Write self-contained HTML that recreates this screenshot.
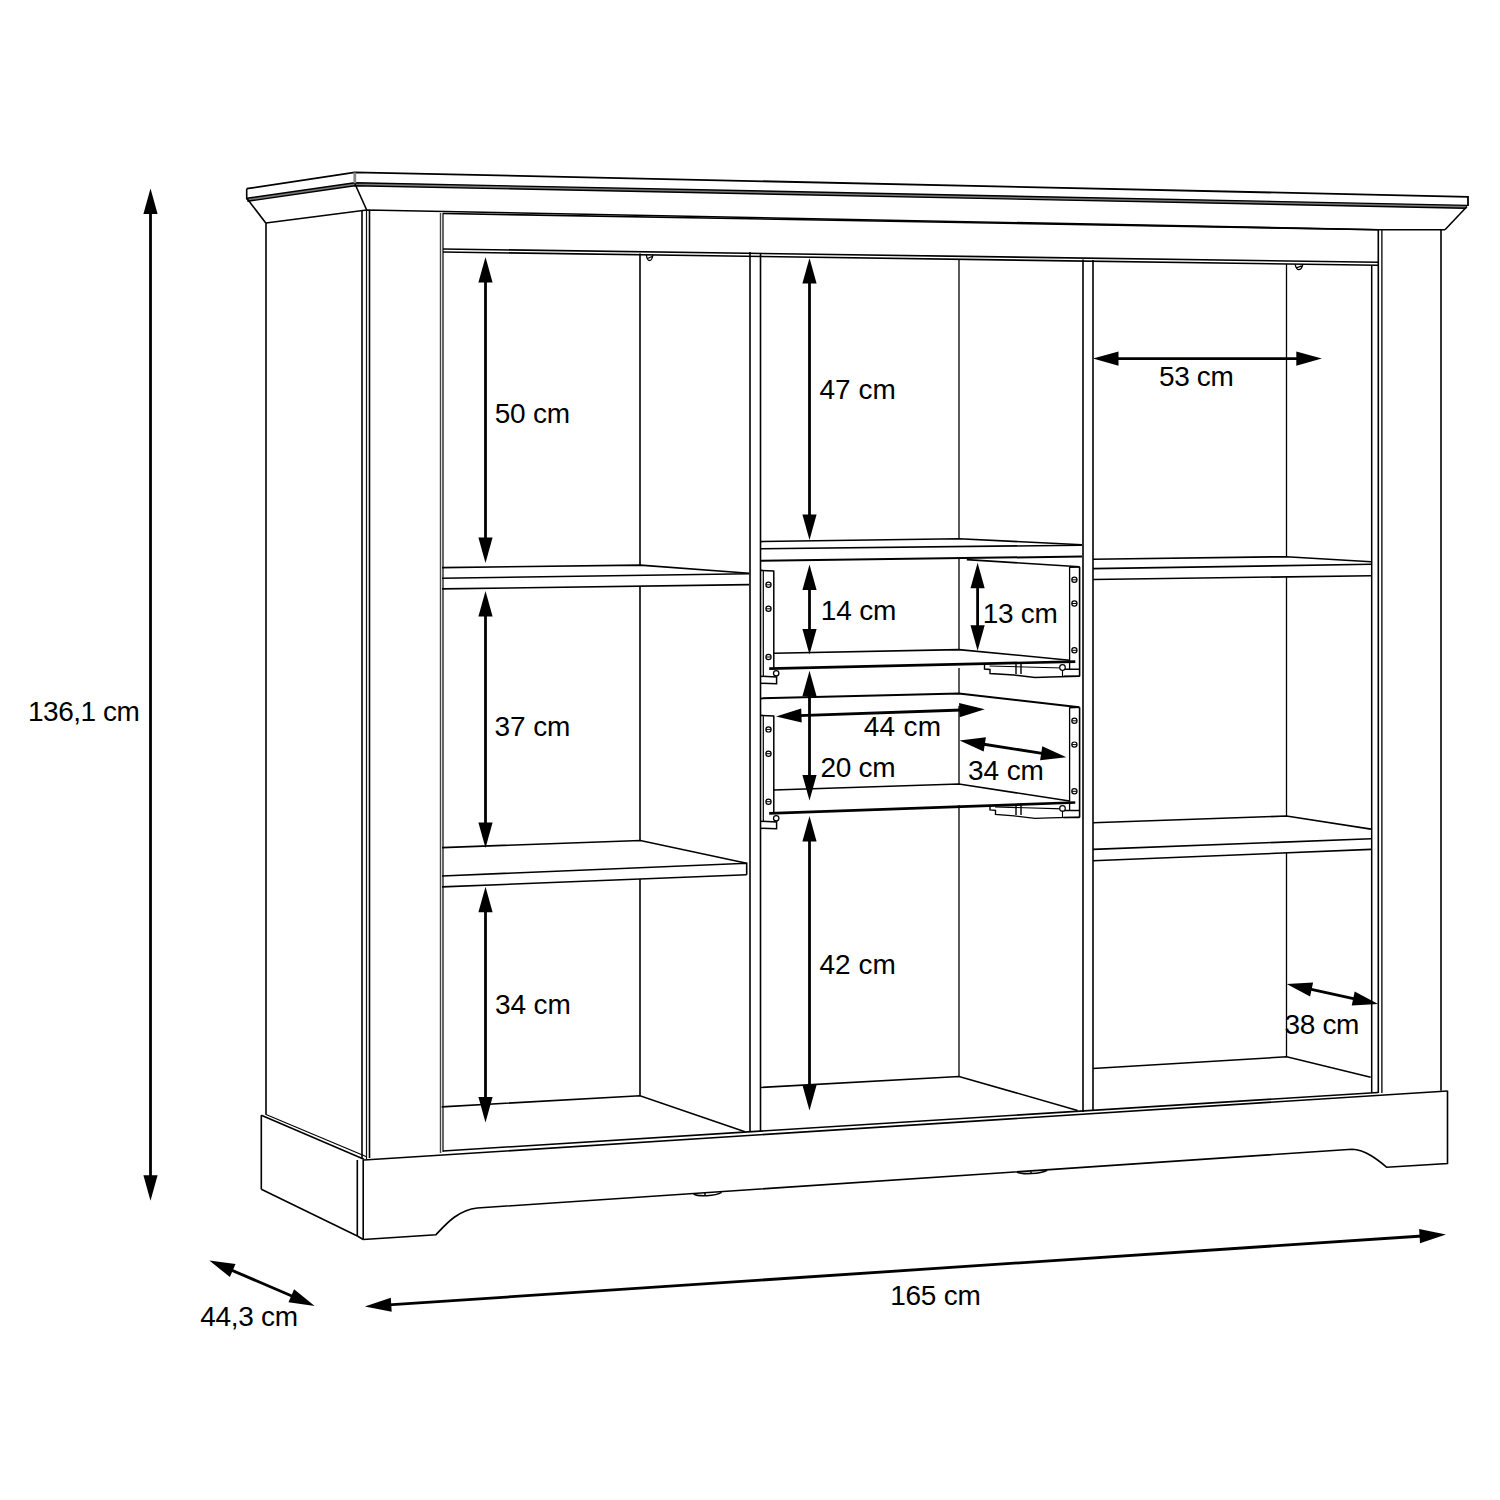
<!DOCTYPE html>
<html><head><meta charset="utf-8"><style>
html,body{margin:0;padding:0;background:#fff;}
body{width:1500px;height:1500px;overflow:hidden;}
svg{display:block;}
text{font-family:"Liberation Sans",sans-serif;fill:#000;}
</style></head><body>
<svg width="1500" height="1500" viewBox="0 0 1500 1500" stroke-linecap="butt" stroke-linejoin="miter">
<rect width="1500" height="1500" fill="#fff"/>
<path d="M246.7 188.7 L354.7 172.3 L1468.0 196.8 L1468.0 206.1" stroke="#000" stroke-width="1.8" fill="none"/>
<path d="M246.7 188.7 L246.7 199.5" stroke="#000" stroke-width="1.6" fill="none"/>
<path d="M247.0 199.8 L354.7 184.2 L1467.0 206.8" stroke="#777" stroke-width="3.2" fill="none"/>
<path d="M246.7 198.3 L354.7 182.7 L1468.0 205.4" stroke="#000" stroke-width="1.4" fill="none"/>
<path d="M247.5 201.3 L354.7 185.7 L1466.0 208.2" stroke="#000" stroke-width="1.4" fill="none"/>
<path d="M354.8 172.5 L354.8 183.0" stroke="#888" stroke-width="2.8" fill="none"/>
<path d="M247.0 198.5 L265.8 223.0" stroke="#000" stroke-width="1.6" fill="none"/>
<path d="M355.0 184.0 L366.7 210.0" stroke="#000" stroke-width="1.6" fill="none"/>
<path d="M1467.0 206.5 L1445.0 229.7" stroke="#000" stroke-width="1.6" fill="none"/>
<path d="M265.8 223.0 L366.7 210.0 L1378.0 229.7 L1445.0 229.7" stroke="#000" stroke-width="1.6" fill="none"/>
<path d="M266.0 223.0 L266.0 1114.7" stroke="#000" stroke-width="1.6" fill="none"/>
<path d="M362.0 211.0 L362.0 1159.0" stroke="#000" stroke-width="1.6" fill="none"/>
<path d="M366.5 210.5 L366.5 1159.0" stroke="#111" stroke-width="1.2" fill="none"/>
<path d="M369.5 211.0 L369.5 1158.0" stroke="#000" stroke-width="1.6" fill="none"/>
<path d="M440.5 213.0 L440.5 1153.0" stroke="#444" stroke-width="1.4" fill="none"/>
<path d="M443.0 213.0 L443.0 1152.0" stroke="#000" stroke-width="1.2" fill="none"/>
<path d="M443.0 213.5 L1378.0 229.7" stroke="#000" stroke-width="1.6" fill="none"/>
<path d="M443.0 249.0 L1378.0 262.2" stroke="#000" stroke-width="1.6" fill="none"/>
<path d="M443.0 252.0 L1378.0 265.2" stroke="#000" stroke-width="1.6" fill="none"/>
<path d="M1378.3 229.7 L1378.3 1093.0" stroke="#000" stroke-width="1.6" fill="none"/>
<path d="M1381.9 229.7 L1381.9 1093.0" stroke="#000" stroke-width="1.3" fill="none"/>
<path d="M1371.7 265.5 L1371.7 1093.0" stroke="#000" stroke-width="1.5" fill="none"/>
<path d="M1441.0 229.7 L1441.0 1090.7" stroke="#000" stroke-width="1.6" fill="none"/>
<path d="M750.0 252.0 L750.0 1131.8" stroke="#000" stroke-width="1.6" fill="none"/>
<path d="M760.5 253.0 L760.5 1131.0" stroke="#000" stroke-width="1.6" fill="none"/>
<path d="M1083.0 259.5 L1083.0 1112.0" stroke="#000" stroke-width="1.6" fill="none"/>
<path d="M1093.0 260.0 L1093.0 1111.0" stroke="#000" stroke-width="1.6" fill="none"/>
<path d="M640.0 253.5 L640.0 565.0" stroke="#000" stroke-width="1.6" fill="none"/>
<path d="M640.0 586.1 L640.0 840.5" stroke="#000" stroke-width="1.6" fill="none"/>
<path d="M640.0 879.0 L640.0 1095.7" stroke="#000" stroke-width="1.6" fill="none"/>
<path d="M959.0 259.0 L959.0 538.7" stroke="#000" stroke-width="1.3" fill="none"/>
<path d="M959.0 558.1 L959.0 649.6" stroke="#000" stroke-width="1.3" fill="none"/>
<path d="M959.0 668.0 L959.0 693.6" stroke="#000" stroke-width="1.3" fill="none"/>
<path d="M959.0 706.0 L959.0 784.3" stroke="#000" stroke-width="1.3" fill="none"/>
<path d="M959.0 805.0 L959.0 1076.5" stroke="#000" stroke-width="1.3" fill="none"/>
<path d="M1286.5 263.9 L1286.5 556.7" stroke="#000" stroke-width="1.3" fill="none"/>
<path d="M1286.5 576.9 L1286.5 816.0" stroke="#000" stroke-width="1.3" fill="none"/>
<path d="M1286.5 852.9 L1286.5 1056.8" stroke="#000" stroke-width="1.3" fill="none"/>
<path d="M646.3 255 C646.8 258 648.3 260.5 649.5 260.5 C651 260.5 652.4 258 652.9 255 M647.6 258.5 L652 256.5" stroke="#000" stroke-width="1.3" fill="none"/>
<path d="M1295.2 264.4 C1295.8 267.5 1297.5 269.7 1298.8 269.7 C1300.5 269.7 1302.2 267.5 1302.8 264.4 M1296.6 267.8 L1301.6 265.8" stroke="#000" stroke-width="1.3" fill="none"/>
<path d="M442.0 567.6 L640.3 565.1 L749.2 573.2" stroke="#000" stroke-width="1.6" fill="none"/>
<path d="M442.0 578.3 L749.2 573.7" stroke="#000" stroke-width="1.6" fill="none"/>
<path d="M442.0 588.9 L749.2 584.6" stroke="#000" stroke-width="1.6" fill="none"/>
<path d="M442.0 847.6 L640.3 840.5 L746.7 863.3" stroke="#000" stroke-width="1.6" fill="none"/>
<path d="M442.0 876.0 L746.7 863.3 L746.7 874.7" stroke="#000" stroke-width="1.6" fill="none"/>
<path d="M442.0 886.9 L746.7 874.7" stroke="#000" stroke-width="1.6" fill="none"/>
<path d="M441.7 1106.9 L640.0 1095.7 L745.0 1131.8" stroke="#000" stroke-width="1.6" fill="none"/>
<path d="M760.0 541.6 L959.0 538.7 L1082.0 544.7" stroke="#000" stroke-width="1.6" fill="none"/>
<path d="M760.0 548.8 L1082.0 545.2" stroke="#000" stroke-width="1.6" fill="none"/>
<path d="M760.0 560.8 L1082.0 556.5" stroke="#000" stroke-width="2.0" fill="none"/>
<path d="M966.8 559.6 L1079.6 566.8" stroke="#000" stroke-width="1.6" fill="none"/>
<path d="M760.5 570.4 L773.8 571.0" stroke="#000" stroke-width="1.6" fill="none"/>
<path d="M763.3 570.4 L763.3 676.3" stroke="#000" stroke-width="1.2" fill="none"/>
<path d="M773.8 570.4 L773.8 667.7" stroke="#000" stroke-width="1.5" fill="none"/>
<path d="M760.5 676.3 L776.6 676.9 L776.6 683.6999999999999 L760.5 683.3" stroke="#000" stroke-width="1.5" fill="none"/>
<circle cx="776.2" cy="673.3" r="2.7" stroke="#000" stroke-width="1.3" fill="#fff"/>
<circle cx="768.5" cy="584.8" r="2.6" stroke="#000" stroke-width="1.2" fill="none"/>
<path d="M766.1 584.8 L770.9 584.8" stroke="#000" stroke-width="1.0" fill="none"/>
<circle cx="768.5" cy="608.8" r="2.6" stroke="#000" stroke-width="1.2" fill="none"/>
<path d="M766.1 608.8 L770.9 608.8" stroke="#000" stroke-width="1.0" fill="none"/>
<circle cx="768.5" cy="657" r="2.6" stroke="#000" stroke-width="1.2" fill="none"/>
<path d="M766.1 657.0 L770.9 657.0" stroke="#000" stroke-width="1.0" fill="none"/>
<path d="M1069.6 567.3 L1079.6 567.0" stroke="#000" stroke-width="1.6" fill="none"/>
<path d="M1069.6 567.0 L1069.6 669.3" stroke="#000" stroke-width="1.3" fill="none"/>
<path d="M1079.6 567.0 L1079.6 676.3" stroke="#000" stroke-width="1.6" fill="none"/>
<path d="M1063.6 669.3 L1079.6 669.3 M1063.6 676.3 L1079.6 676.3" stroke="#000" stroke-width="1.5" fill="none"/>
<circle cx="1074.4" cy="579.8" r="2.6" stroke="#000" stroke-width="1.2" fill="none"/>
<path d="M1072.0 579.8 L1076.8 579.8" stroke="#000" stroke-width="1.0" fill="none"/>
<circle cx="1074.4" cy="603.5" r="2.6" stroke="#000" stroke-width="1.2" fill="none"/>
<path d="M1072.0 603.5 L1076.8 603.5" stroke="#000" stroke-width="1.0" fill="none"/>
<circle cx="1074.4" cy="650.3" r="2.6" stroke="#000" stroke-width="1.2" fill="none"/>
<path d="M1072.0 650.3 L1076.8 650.3" stroke="#000" stroke-width="1.0" fill="none"/>
<path d="M773.8 653.3 L958.9 649.6 L1069.6 660.2" stroke="#000" stroke-width="1.6" fill="none"/>
<path d="M769.2 668.7 L1075.3 661.6" stroke="#000" stroke-width="2.7" fill="none"/>
<path d="M984.5 665.0 L984.5 669.0 L990.0 669.5 L990.0 673.5 L1014 675.0 L1035 677.5 L1050 677.0 L1079.6 676.2" stroke="#000" stroke-width="1.4" fill="none"/>
<path d="M989.5 666.0 L1063 668.0" stroke="#000" stroke-width="1.1" fill="none"/>
<path d="M1016 664.0 L1016 674.0 M1021 664.0 L1021 674.0" stroke="#000" stroke-width="1.4" fill="none"/>
<circle cx="1062.5" cy="667.5" r="2.8" stroke="#000" stroke-width="1.2" fill="#fff"/>
<path d="M1062.5 670.0 L1062.5 676.5" stroke="#000" stroke-width="1.1" fill="none"/>
<path d="M760.0 698.4 L958.9 693.6 L1079.3 707.3" stroke="#000" stroke-width="2.0" fill="none"/>
<path d="M760.5 715.4 L773.8 716.0" stroke="#000" stroke-width="1.6" fill="none"/>
<path d="M763.3 715.4 L763.3 821.3" stroke="#000" stroke-width="1.2" fill="none"/>
<path d="M773.8 715.4 L773.8 812.4" stroke="#000" stroke-width="1.5" fill="none"/>
<path d="M760.5 821.3 L776.6 821.9 L776.6 828.6999999999999 L760.5 828.3" stroke="#000" stroke-width="1.5" fill="none"/>
<circle cx="776.2" cy="818.3" r="2.7" stroke="#000" stroke-width="1.3" fill="#fff"/>
<circle cx="768.5" cy="729.4" r="2.6" stroke="#000" stroke-width="1.2" fill="none"/>
<path d="M766.1 729.4 L770.9 729.4" stroke="#000" stroke-width="1.0" fill="none"/>
<circle cx="768.5" cy="753.7" r="2.6" stroke="#000" stroke-width="1.2" fill="none"/>
<path d="M766.1 753.7 L770.9 753.7" stroke="#000" stroke-width="1.0" fill="none"/>
<circle cx="768.5" cy="801.7" r="2.6" stroke="#000" stroke-width="1.2" fill="none"/>
<path d="M766.1 801.7 L770.9 801.7" stroke="#000" stroke-width="1.0" fill="none"/>
<path d="M1069.6 707.6 L1079.6 707.3" stroke="#000" stroke-width="1.6" fill="none"/>
<path d="M1069.6 707.3 L1069.6 810.4" stroke="#000" stroke-width="1.3" fill="none"/>
<path d="M1079.6 707.3 L1079.6 817.4" stroke="#000" stroke-width="1.6" fill="none"/>
<path d="M1063.6 810.4 L1079.6 810.4 M1063.6 817.4 L1079.6 817.4" stroke="#000" stroke-width="1.5" fill="none"/>
<circle cx="1074.4" cy="720.8" r="2.6" stroke="#000" stroke-width="1.2" fill="none"/>
<path d="M1072.0 720.8 L1076.8 720.8" stroke="#000" stroke-width="1.0" fill="none"/>
<circle cx="1074.4" cy="744.6" r="2.6" stroke="#000" stroke-width="1.2" fill="none"/>
<path d="M1072.0 744.6 L1076.8 744.6" stroke="#000" stroke-width="1.0" fill="none"/>
<circle cx="1074.4" cy="791.3" r="2.6" stroke="#000" stroke-width="1.2" fill="none"/>
<path d="M1072.0 791.3 L1076.8 791.3" stroke="#000" stroke-width="1.0" fill="none"/>
<path d="M773.8 790.0 L958.9 784.0 L1069.6 801.0" stroke="#000" stroke-width="1.6" fill="none"/>
<path d="M769.2 813.4 L1075.3 802.5" stroke="#000" stroke-width="2.7" fill="none"/>
<path d="M990 805.9 L990 809.9 L995.5 810.4 L995.5 814.4 L1014 815.9 L1035 818.4 L1050 817.9 L1079.6 817.1" stroke="#000" stroke-width="1.4" fill="none"/>
<path d="M995 806.9 L1063 808.9" stroke="#000" stroke-width="1.1" fill="none"/>
<path d="M1016 804.9 L1016 814.9 M1021 804.9 L1021 814.9" stroke="#000" stroke-width="1.4" fill="none"/>
<circle cx="1062.5" cy="808.4" r="2.8" stroke="#000" stroke-width="1.2" fill="#fff"/>
<path d="M1062.5 810.9 L1062.5 817.4" stroke="#000" stroke-width="1.1" fill="none"/>
<path d="M760.4 1087.5 L959.0 1076.5 L1077.6 1110.4" stroke="#000" stroke-width="1.6" fill="none"/>
<path d="M1093.0 559.3 L1286.5 556.7 L1371.0 561.8" stroke="#000" stroke-width="1.6" fill="none"/>
<path d="M1093.0 568.6 L1371.0 564.3" stroke="#000" stroke-width="1.6" fill="none"/>
<path d="M1093.0 579.5 L1371.0 575.7" stroke="#000" stroke-width="1.6" fill="none"/>
<path d="M1093.0 822.8 L1286.5 816.0 L1371.0 829.1" stroke="#000" stroke-width="1.6" fill="none"/>
<path d="M1093.0 849.4 L1371.0 838.7" stroke="#000" stroke-width="1.6" fill="none"/>
<path d="M1093.0 860.8 L1371.0 849.4" stroke="#000" stroke-width="1.6" fill="none"/>
<path d="M1092.8 1068.5 L1286.7 1056.8 L1370.7 1077.3" stroke="#000" stroke-width="1.6" fill="none"/>
<path d="M443.0 1151.0 L1378.0 1092.5" stroke="#000" stroke-width="1.6" fill="none"/>
<path d="M364.0 1160.0 L1447.5 1091.0" stroke="#000" stroke-width="1.6" fill="none"/>
<path d="M261.3 1115.2 L364.0 1159.2" stroke="#000" stroke-width="1.6" fill="none"/>
<path d="M266.0 1114.5 L366.0 1156.5" stroke="#000" stroke-width="1.1" fill="none"/>
<path d="M261.3 1115.2 L261.3 1189.3" stroke="#000" stroke-width="1.6" fill="none"/>
<path d="M261.3 1189.3 L357.3 1236.0" stroke="#000" stroke-width="1.6" fill="none"/>
<path d="M357.3 1160.0 L357.3 1236.0" stroke="#000" stroke-width="1.6" fill="none"/>
<path d="M363.2 1159.5 L363.2 1239.5" stroke="#000" stroke-width="1.6" fill="none"/>
<path d="M357.3 1236.0 L363.2 1239.5" stroke="#000" stroke-width="1.6" fill="none"/>
<path d="M363.2 1239.5 L436 1234.7 C446 1224 458 1210 477.3 1208 L1352 1149.3 C1366 1150 1378 1160 1386.7 1167.2 L1447.5 1163.5 L1447.5 1090.7" stroke="#000" stroke-width="1.6" fill="none"/>
<path d="M693.6 1194 C698 1196.6 715 1196.4 721.6 1192.4" stroke="#000" stroke-width="1.6" fill="none"/>
<path d="M705.0 1193.0 L705.0 1195.5" stroke="#000" stroke-width="1.5" fill="none"/>
<path d="M1016.8 1172 C1022 1174.6 1040 1174.2 1047.2 1170.2" stroke="#000" stroke-width="1.6" fill="none"/>
<path d="M1031.0 1171.5 L1031.0 1173.8" stroke="#000" stroke-width="1.5" fill="none"/>
<path d="M150.5 211.3 L150.5 1177.8" stroke="#000" stroke-width="2.8" fill="none"/>
<path d="M150.5 1200.8 L143.4 1175.3 L157.6 1175.3 Z" fill="#000"/>
<path d="M150.5 188.4 L143.4 213.9 L157.6 213.9 Z" fill="#000"/>
<path d="M230.4 1269.6 L293.6 1296.8" stroke="#000" stroke-width="2.8" fill="none"/>
<path d="M314.7 1305.9 L288.5 1302.3 L294.1 1289.3 Z" fill="#000"/>
<path d="M209.3 1260.5 L229.9 1277.1 L235.5 1264.1 Z" fill="#000"/>
<path d="M388.6 1304.9 L1422.2 1236.0" stroke="#000" stroke-width="2.8" fill="none"/>
<path d="M1446.0 1234.4 L1420.0 1243.2 L1419.1 1229.1 Z" fill="#000"/>
<path d="M364.8 1306.5 L391.7 1311.8 L390.8 1297.7 Z" fill="#000"/>
<path d="M485.5 279.9 L485.5 540.0" stroke="#000" stroke-width="2.8" fill="none"/>
<path d="M485.5 563.0 L478.4 537.5 L492.6 537.5 Z" fill="#000"/>
<path d="M485.5 257.0 L478.4 282.5 L492.6 282.5 Z" fill="#000"/>
<path d="M485.5 614.0 L485.5 825.0" stroke="#000" stroke-width="2.8" fill="none"/>
<path d="M485.5 848.0 L478.4 822.5 L492.6 822.5 Z" fill="#000"/>
<path d="M485.5 591.0 L478.4 616.5 L492.6 616.5 Z" fill="#000"/>
<path d="M485.5 909.8 L485.5 1099.5" stroke="#000" stroke-width="2.8" fill="none"/>
<path d="M485.5 1122.5 L478.4 1097.0 L492.6 1097.0 Z" fill="#000"/>
<path d="M485.5 886.8 L478.4 912.3 L492.6 912.3 Z" fill="#000"/>
<path d="M809.5 280.9 L809.5 517.0" stroke="#000" stroke-width="2.8" fill="none"/>
<path d="M809.5 540.0 L802.4 514.5 L816.6 514.5 Z" fill="#000"/>
<path d="M809.5 258.0 L802.4 283.5 L816.6 283.5 Z" fill="#000"/>
<path d="M809.5 587.4 L809.5 631.4" stroke="#000" stroke-width="2.8" fill="none"/>
<path d="M809.5 654.4 L802.4 628.9 L816.6 628.9 Z" fill="#000"/>
<path d="M809.5 564.4 L802.4 589.9 L816.6 589.9 Z" fill="#000"/>
<path d="M977.6 585.7 L977.6 627.8" stroke="#000" stroke-width="2.8" fill="none"/>
<path d="M977.6 650.8 L970.5 625.3 L984.7 625.3 Z" fill="#000"/>
<path d="M977.6 562.7 L970.5 588.2 L984.7 588.2 Z" fill="#000"/>
<path d="M809.5 693.8 L809.5 777.4" stroke="#000" stroke-width="2.8" fill="none"/>
<path d="M809.5 800.4 L802.4 774.9 L816.6 774.9 Z" fill="#000"/>
<path d="M809.5 670.8 L802.4 696.3 L816.6 696.3 Z" fill="#000"/>
<path d="M809.5 839.0 L809.5 1087.5" stroke="#000" stroke-width="2.8" fill="none"/>
<path d="M809.5 1110.4 L802.4 1084.9 L816.6 1084.9 Z" fill="#000"/>
<path d="M809.5 816.0 L802.4 841.5 L816.6 841.5 Z" fill="#000"/>
<path d="M1116.0 358.6 L1298.8 358.6" stroke="#000" stroke-width="2.8" fill="none"/>
<path d="M1321.8 358.6 L1296.3 365.7 L1296.3 351.5 Z" fill="#000"/>
<path d="M1093.0 358.6 L1118.5 365.7 L1118.5 351.5 Z" fill="#000"/>
<path d="M798.9 715.6 L961.9 710.0" stroke="#000" stroke-width="2.8" fill="none"/>
<path d="M984.8 709.2 L959.6 717.2 L959.1 703.0 Z" fill="#000"/>
<path d="M776.0 716.4 L801.7 722.6 L801.2 708.4 Z" fill="#000"/>
<path d="M982.3 744.0 L1043.7 753.6" stroke="#000" stroke-width="2.8" fill="none"/>
<path d="M1066.4 757.2 L1040.1 760.3 L1042.3 746.2 Z" fill="#000"/>
<path d="M959.6 740.4 L983.7 751.4 L985.9 737.3 Z" fill="#000"/>
<path d="M1309.1 988.9 L1355.7 999.1" stroke="#000" stroke-width="2.8" fill="none"/>
<path d="M1378.1 1004.0 L1351.7 1005.5 L1354.7 991.6 Z" fill="#000"/>
<path d="M1286.7 984.0 L1310.1 996.4 L1313.1 982.5 Z" fill="#000"/>
<text x="28.0" y="720.6" font-size="28" textLength="111.74" lengthAdjust="spacing">136,1 cm</text>
<text x="200.3" y="1326.2" font-size="28" textLength="97.74" lengthAdjust="spacing">44,3 cm</text>
<text x="890.2" y="1304.5" font-size="28" textLength="90.63" lengthAdjust="spacing">165 cm</text>
<text x="494.8" y="423.4" font-size="28" textLength="75.25" lengthAdjust="spacing">50 cm</text>
<text x="494.4" y="736.1" font-size="28" textLength="76.0" lengthAdjust="spacing">37 cm</text>
<text x="495.0" y="1014.2" font-size="28" textLength="75.75" lengthAdjust="spacing">34 cm</text>
<text x="819.4" y="399.1" font-size="28" textLength="76.5" lengthAdjust="spacing">47 cm</text>
<text x="820.8" y="619.8" font-size="28" textLength="75.5" lengthAdjust="spacing">14 cm</text>
<text x="982.8" y="623.4" font-size="28" textLength="75.0" lengthAdjust="spacing">13 cm</text>
<text x="863.8" y="735.8" font-size="28" textLength="77.25" lengthAdjust="spacing">44 cm</text>
<text x="820.6" y="776.6" font-size="28" textLength="75.0" lengthAdjust="spacing">20 cm</text>
<text x="968.1" y="780.2" font-size="28" textLength="75.75" lengthAdjust="spacing">34 cm</text>
<text x="819.4" y="973.5" font-size="28" textLength="76.5" lengthAdjust="spacing">42 cm</text>
<text x="1159.0" y="386.2" font-size="28" textLength="74.75" lengthAdjust="spacing">53 cm</text>
<text x="1284.6" y="1033.5" font-size="28" textLength="74.75" lengthAdjust="spacing">38 cm</text>
</svg>
</body></html>
